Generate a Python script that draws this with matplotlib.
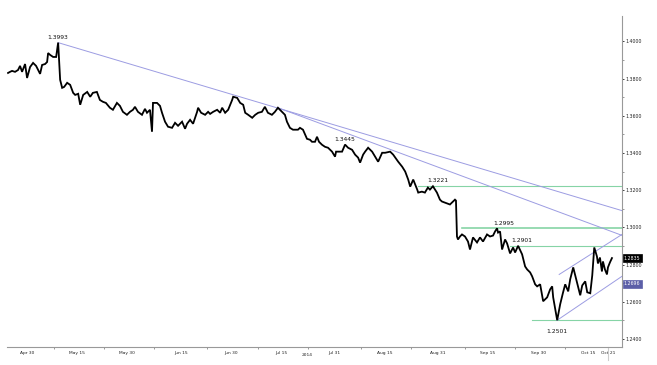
import numpy as np
import pandas as pd
import matplotlib
matplotlib.use("Agg")
import matplotlib.pyplot as plt
import matplotlib.dates as mdates
import matplotlib.transforms as mtransforms

## price path, day offsets from 2014-04-24
start = pd.Timestamp("2014-04-24")
days = [0.3, 0.9, 1.5, 2.4, 3.3, 3.9, 4.5, 5.4, 6.0, 6.9, 7.8, 8.7, 9.9, 10.5, 11.4, 12.0,
        12.3, 12.9, 13.8, 14.7, 15.3, 15.6, 15.9, 16.5, 17.1, 18.0, 18.9, 19.8, 20.4, 21.3,
        21.9, 22.8, 24.0, 24.9, 25.7, 26.9, 27.8, 28.7, 29.6, 30.8, 31.7, 32.9, 33.8, 34.7,
        35.9, 36.8, 37.7, 38.3, 39.2, 40.4, 41.3, 41.9, 42.8, 43.4, 43.7, 44.9, 45.8, 46.4,
        47.3, 48.2, 49.4, 50.3, 51.2, 52.4, 53.3, 53.9, 54.8, 55.7, 56.9, 57.2, 58.1, 59.3,
        60.2, 60.8, 61.7, 62.9, 63.8, 64.4, 65.3, 66.2, 67.4, 67.7, 68.9, 69.8, 70.7, 71.3,
        72.2, 73.4, 74.3, 75.2, 76.3, 77.2, 78.1, 79.3, 80.2, 81.1, 82.3, 83.2, 83.8, 84.7,
        85.6, 87.1, 87.7, 88.6, 89.8, 90.7, 91.3, 92.2, 92.8, 93.4, 94.3, 95.2, 96.1, 97.3,
        98.2, 98.5, 100.3, 101.2, 102.1, 103.3, 104.2, 105.1, 105.7, 106.6, 107.2, 108.1,
        109.3, 110.2, 111.1, 112.3, 113.2, 114.7, 115.6, 117.1, 118.3, 119.2, 120.1, 120.7,
        121.6, 122.8, 123.1, 124.2, 125.1, 126.0, 126.6, 127.5, 128.7, 129.6, 130.2, 131.1,
        132.6, 133.5, 134.1, 134.4, 134.7, 135.0, 135.6, 136.2, 137.1, 138.0, 138.6, 139.5,
        140.7, 141.6, 142.5, 143.7, 144.6, 145.5, 146.1, 146.7, 147.0, 147.6, 148.2, 149.1,
        149.7, 150.6, 151.5, 152.1, 153.0, 154.2, 155.1, 155.7, 156.6, 157.2, 158.1, 158.7,
        159.6, 160.5, 161.7, 162.6, 163.2, 163.5, 164.7, 165.6, 166.4, 167.1, 168.0, 168.6,
        169.5, 170.7, 171.6, 172.2, 173.1, 173.7, 174.6, 175.2, 175.8, 176.6, 176.9, 177.5,
        178.1, 178.4, 179.0, 179.6, 179.9, 180.5, 181.1]
prices = [1.3830, 1.3836, 1.3841, 1.3836, 1.3846, 1.3868, 1.3836, 1.3878, 1.3803, 1.3862,
          1.3884, 1.3868, 1.3825, 1.3873, 1.3878, 1.3889, 1.3937, 1.3927, 1.3916, 1.3916,
          1.3993, 1.3889, 1.3793, 1.3750, 1.3755, 1.3777, 1.3766, 1.3723, 1.3712, 1.3718,
          1.3659, 1.3712, 1.3728, 1.3702, 1.3723, 1.3728, 1.3685, 1.3675, 1.3669, 1.3643,
          1.3632, 1.3669, 1.3653, 1.3621, 1.3605, 1.3621, 1.3632, 1.3648, 1.3621, 1.3605,
          1.3637, 1.3616, 1.3632, 1.3514, 1.3669, 1.3669, 1.3653, 1.3616, 1.3568, 1.3541,
          1.3535, 1.3562, 1.3546, 1.3568, 1.3530, 1.3557, 1.3578, 1.3557, 1.3621, 1.3643,
          1.3616, 1.3605, 1.3621, 1.3610, 1.3621, 1.3632, 1.3616, 1.3643, 1.3616, 1.3632,
          1.3685, 1.3702, 1.3696, 1.3669, 1.3659, 1.3616, 1.3605, 1.3589, 1.3605, 1.3616,
          1.3621, 1.3648, 1.3616, 1.3605, 1.3621, 1.3643, 1.3621, 1.3605, 1.3568, 1.3535,
          1.3525, 1.3525, 1.3535, 1.3525, 1.3476, 1.3471, 1.3460, 1.3460, 1.3487, 1.3460,
          1.3444, 1.3433, 1.3428, 1.3407, 1.3380, 1.3407, 1.3407, 1.3445, 1.3428, 1.3417,
          1.3391, 1.3375, 1.3348, 1.3391, 1.3407, 1.3428, 1.3407, 1.3380, 1.3353, 1.3401,
          1.3401, 1.3407, 1.3391, 1.3353, 1.3326, 1.3300, 1.3257, 1.3219, 1.3257, 1.3203,
          1.3187, 1.3192, 1.3187, 1.3214, 1.3203, 1.3221, 1.3187, 1.3149, 1.3139, 1.3133,
          1.3123, 1.3139, 1.3149, 1.3144, 1.2951, 1.2935, 1.2951, 1.2962, 1.2951, 1.2924,
          1.2881, 1.2946, 1.2919, 1.2946, 1.2924, 1.2962, 1.2951, 1.2956, 1.2978, 1.2995,
          1.2972, 1.2978, 1.2881, 1.2935, 1.2914, 1.2860, 1.2892, 1.2865, 1.2901, 1.2855,
          1.2790, 1.2774, 1.2758, 1.2737, 1.2694, 1.2683, 1.2694, 1.2603, 1.2624, 1.2667,
          1.2683, 1.2624, 1.2501, 1.2587, 1.2646, 1.2694, 1.2656, 1.2721, 1.2785, 1.2699,
          1.2635, 1.2688, 1.2710, 1.2651, 1.2646, 1.2742, 1.2892, 1.2844, 1.2806, 1.2838,
          1.2763, 1.2817, 1.2774, 1.2747, 1.2785, 1.2812, 1.2835]

## trend lines: (start day, start price, end day, end price)
trend_lines = [
    (15.3, 1.3993, 184.1, 1.3090),
    (81.1, 1.3643, 184.1, 1.2957),
    (164.7, 1.2501, 184.1, 1.2737),
    (165.3, 1.2747, 184.1, 1.2962),
]
## horizontal levels and the day they start
levels = [1.3221, 1.2995, 1.2901, 1.2501]
level_start = [123.1, 136.2, 150.6, 157.2]
level_width = [0.8, 1.2, 0.8, 0.8]

## labelled pivots (day, price, text offset in points)
pivot_days = [15.3, 101.2, 127.5, 146.7, 153.0, 164.7]
pivot_prices = [1.3993, 1.3445, 1.3221, 1.2995, 1.2901, 1.2501]
pivot_text = ["1.3993", "1.3445", "1.3221", "1.2995", "1.2901", "1.2501"]
pivot_off = [(0, 2), (0, 2), (3.5, 2), (4.5, 1.5), (3, 2), (0, -6)]

tick_dates = ["2014-04-30", "2014-05-15", "2014-05-30", "2014-06-15", "2014-06-30",
              "2014-07-15", "2014-07-31", "2014-08-15", "2014-08-31", "2014-09-15",
              "2014-09-30", "2014-10-15", "2014-10-21"]
tick_labels = ["Apr 30", "May 15", "May 30", "Jun 15", "Jun 30", "Jul 15", "Jul 31",
               "Aug 15", "Aug 31", "Sep 15", "Sep 30", "Oct 15", "Oct 21"]
y_ticks = [1.24, 1.26, 1.28, 1.30, 1.32, 1.34, 1.36, 1.38, 1.40]

last_price = 1.2835
channel_price = 1.2696

trend_col = "#9c9ce2"
level_col = "#86d4a6"
font_name = "DejaVu Sans"

def to_date(d):
    return start + pd.to_timedelta(d, unit="D")

fig = plt.figure(figsize=(6.57, 3.65), dpi=100)
ax = fig.add_axes([0.0107, 0.0493, 0.936, 0.9068])

x = to_date(np.array(days))
ax.plot(x, prices, color="black", lw=1.3, solid_joinstyle="miter", zorder=5)

for d0, p0, d1, p1 in trend_lines:
    ax.plot([to_date(d0), to_date(d1)], [p0, p1], color=trend_col, lw=0.7, zorder=3)

for lv, d0, w in zip(levels, level_start, level_width):
    ax.plot([to_date(d0), to_date(184.1)], [lv, lv], color=level_col, lw=w, zorder=2)

for d, p, t, off in zip(pivot_days, pivot_prices, pivot_text, pivot_off):
    ax.annotate(t, (to_date(d), p), xytext=off, textcoords="offset points",
                ha="center", va="bottom" if off[1] > 0 else "top",
                fontsize=4.3, fontname=font_name, color="#111111", zorder=6)

ax.set_xlim(to_date(0), to_date(184.1))
ax.set_ylim(1.2357, 1.4136)

ax.set_xticks(pd.to_datetime(tick_dates))
ax.set_xticklabels(tick_labels)
minor = [pd.Timestamp(t) + pd.Timedelta(days=8) for t in tick_dates[:-2]]
ax.set_xticks(minor, minor=True)
ax.tick_params(axis="x", which="major", length=0, pad=3, labelsize=3.2, colors="#222222")
ax.tick_params(axis="x", which="minor", length=1.5, color="#888888")

ax.yaxis.tick_right()
ax.set_yticks(y_ticks)
ax.set_yticklabels(["%.4f" % v for v in y_ticks])
ax.set_yticks(np.arange(1.25, 1.41, 0.02), minor=True)
ax.tick_params(axis="y", which="major", length=1.5, pad=1, labelsize=3.4,
               colors="#222222", width=0.6)
ax.tick_params(axis="y", which="minor", length=1.5, width=0.6, color="#888888")

for s in ["left", "top"]:
    ax.spines[s].set_visible(False)
for s in ["right", "bottom"]:
    ax.spines[s].set_color("#999999")
    ax.spines[s].set_linewidth(0.8)

for t in ax.get_xticklabels() + ax.get_yticklabels():
    t.set_fontname(font_name)

fig.text(307 / 657, 1 - 355 / 365, "2014", fontsize=3.2, ha="center", va="center",
         color="#222222", fontname=font_name)

## marker for the last day below the axis
trans = mtransforms.blended_transform_factory(ax.transData, ax.transAxes)
ax.plot([to_date(179.9), to_date(179.9)], [0, -0.04], color="#cccccc", lw=0.8,
        transform=trans, clip_on=False)

## price boxes on the right axis
ax.text(1.003, last_price, "%.4f" % last_price, transform=ax.get_yaxis_transform(),
        fontsize=3.4, color="white", va="center", ha="left", fontname=font_name,
        bbox=dict(boxstyle="square,pad=0.25", fc="black", ec="black", lw=0.5))
ax.text(1.003, channel_price, "%.4f" % channel_price, transform=ax.get_yaxis_transform(),
        fontsize=3.4, color="white", va="center", ha="left", fontname=font_name,
        bbox=dict(boxstyle="square,pad=0.25", fc="#5c5fa8", ec="#5c5fa8", lw=0.5))

fig.savefig("out.png", dpi=100)
